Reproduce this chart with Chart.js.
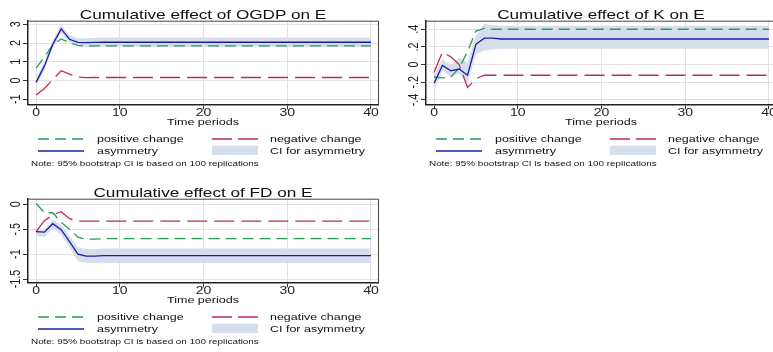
<!DOCTYPE html>
<html>
<head>
<meta charset="utf-8">
<script src="https://cdn.jsdelivr.net/npm/chart.js@4.4.0/dist/chart.umd.min.js"></script>
<style>
html, body { margin: 0; padding: 0; overflow: hidden; background: #fff; width: 773px; height: 352px; }
.panel { position: absolute; width: 400px; height: 178px; }
.panel canvas { position: absolute; left: 0; top: 0; }
.panel svg { position: absolute; left: 0; top: 130px; }
.t { position: absolute; white-space: nowrap; font-family: "Liberation Sans", Arial, sans-serif; color: #111; line-height: 1; }
.c { transform: translate(-50%, -50%) scaleX(1.32); }
.l { transform-origin: 0 50%; transform: translateY(-50%) scaleX(1.3); }
</style>
</head>
<body>
<script>
// periodi e valori
const periods = [0, 1, 2, 3, 4, 5, 6, 7, 8, 9,
  10, 11, 12, 13, 14, 15, 16, 17, 18, 19,
  20, 21, 22, 23, 24, 25, 26, 27, 28, 29,
  30, 31, 32, 33, 34, 35, 36, 37, 38, 39,
  40];
const xTicks = [0, 10, 20, 30, 40];

// OGDP
const ogdpPos = [0.66, 1.25, 1.90, 2.22, 2.02, 1.87, 1.85, 1.85, 1.85, 1.85,
  1.85, 1.85, 1.85, 1.85, 1.85, 1.85, 1.85, 1.85, 1.85, 1.85,
  1.85, 1.85, 1.85, 1.85, 1.85, 1.85, 1.85, 1.85, 1.85, 1.85,
  1.85, 1.85, 1.85, 1.85, 1.85, 1.85, 1.85, 1.85, 1.85, 1.85,
  1.85];
const ogdpNeg = [-0.77, -0.43, 0.05, 0.52, 0.34, 0.18, 0.15, 0.16, 0.16, 0.16,
  0.16, 0.16, 0.16, 0.16, 0.16, 0.16, 0.16, 0.16, 0.16, 0.16,
  0.16, 0.16, 0.16, 0.16, 0.16, 0.16, 0.16, 0.16, 0.16, 0.16,
  0.16, 0.16, 0.16, 0.16, 0.16, 0.16, 0.16, 0.16, 0.16, 0.16,
  0.16];
const ogdpAsym = [-0.10, 0.78, 1.93, 2.75, 2.20, 2.03, 2.02, 2.03, 2.04, 2.04,
  2.04, 2.04, 2.04, 2.04, 2.04, 2.04, 2.04, 2.04, 2.04, 2.04,
  2.04, 2.04, 2.04, 2.04, 2.04, 2.04, 2.04, 2.04, 2.04, 2.04,
  2.04, 2.04, 2.04, 2.04, 2.04, 2.04, 2.04, 2.04, 2.04, 2.04,
  2.04];
const ogdpLo = [-0.32, 0.55, 1.72, 2.53, 2.02, 1.82, 1.78, 1.78, 1.79, 1.79,
  1.79, 1.79, 1.79, 1.79, 1.79, 1.79, 1.79, 1.79, 1.79, 1.79,
  1.79, 1.79, 1.79, 1.79, 1.79, 1.79, 1.79, 1.79, 1.79, 1.79,
  1.79, 1.79, 1.79, 1.79, 1.79, 1.79, 1.79, 1.79, 1.79, 1.79,
  1.79];
const ogdpHi = [0.12, 0.98, 2.13, 2.96, 2.42, 2.25, 2.25, 2.27, 2.29, 2.29,
  2.29, 2.29, 2.29, 2.29, 2.29, 2.29, 2.29, 2.29, 2.29, 2.29,
  2.29, 2.29, 2.29, 2.29, 2.29, 2.29, 2.29, 2.29, 2.29, 2.29,
  2.29, 2.29, 2.29, 2.29, 2.29, 2.29, 2.29, 2.29, 2.29, 2.29,
  2.29];
const ogdpTicks = [-1, 0, 1, 2, 3];
const ogdpTickLabels = ['-1', '0', '1', '2', '3'];

// K
const kPos = [-0.14, -0.15, -0.14, -0.04, 0.15, 0.38, 0.41, 0.40, 0.40, 0.40,
  0.40, 0.40, 0.40, 0.40, 0.40, 0.40, 0.40, 0.40, 0.40, 0.40,
  0.40, 0.40, 0.40, 0.40, 0.40, 0.40, 0.40, 0.40, 0.40, 0.40,
  0.40, 0.40, 0.40, 0.40, 0.40, 0.40, 0.40, 0.40, 0.40, 0.40,
  0.40];
const kNeg = [-0.09, 0.14, 0.09, 0.00, -0.26, -0.16, -0.12, -0.12, -0.12, -0.12,
  -0.12, -0.12, -0.12, -0.12, -0.12, -0.12, -0.12, -0.12, -0.12, -0.12,
  -0.12, -0.12, -0.12, -0.12, -0.12, -0.12, -0.12, -0.12, -0.12, -0.12,
  -0.12, -0.12, -0.12, -0.12, -0.12, -0.12, -0.12, -0.12, -0.12, -0.12,
  -0.12];
const kAsym = [-0.21, -0.01, -0.07, -0.05, -0.12, 0.23, 0.30, 0.30, 0.29, 0.29,
  0.29, 0.29, 0.29, 0.29, 0.29, 0.29, 0.29, 0.29, 0.29, 0.29,
  0.29, 0.29, 0.29, 0.29, 0.29, 0.29, 0.29, 0.29, 0.29, 0.29,
  0.29, 0.29, 0.29, 0.29, 0.29, 0.29, 0.29, 0.29, 0.29, 0.29,
  0.29];
const kLo = [-0.29, -0.07, -0.14, -0.10, -0.21, 0.12, 0.16, 0.17, 0.18, 0.18,
  0.18, 0.18, 0.18, 0.18, 0.18, 0.18, 0.18, 0.18, 0.18, 0.18,
  0.18, 0.18, 0.18, 0.18, 0.18, 0.18, 0.18, 0.18, 0.18, 0.18,
  0.18, 0.18, 0.18, 0.18, 0.18, 0.18, 0.18, 0.18, 0.18, 0.18,
  0.18];
const kHi = [-0.12, 0.06, -0.01, 0.08, 0.02, 0.33, 0.46, 0.45, 0.44, 0.44,
  0.44, 0.44, 0.44, 0.44, 0.44, 0.44, 0.44, 0.44, 0.44, 0.44,
  0.44, 0.44, 0.44, 0.44, 0.44, 0.44, 0.44, 0.44, 0.44, 0.44,
  0.44, 0.44, 0.44, 0.44, 0.44, 0.44, 0.44, 0.44, 0.44, 0.44,
  0.44];
const kTicks = [-0.4, -0.2, 0, 0.2, 0.4];
const kTickLabels = ['-.4', '-.2', '0', '.2', '.4'];

// FD
const fdPos = [0.02, -0.17, -0.17, -0.36, -0.50, -0.66, -0.70, -0.70, -0.69, -0.69,
  -0.69, -0.69, -0.69, -0.69, -0.69, -0.69, -0.69, -0.69, -0.69, -0.69,
  -0.69, -0.69, -0.69, -0.69, -0.69, -0.69, -0.69, -0.69, -0.69, -0.69,
  -0.69, -0.69, -0.69, -0.69, -0.69, -0.69, -0.69, -0.69, -0.69, -0.69,
  -0.69];
const fdNeg = [-0.55, -0.33, -0.21, -0.15, -0.29, -0.34, -0.34, -0.34, -0.34, -0.34,
  -0.34, -0.34, -0.34, -0.34, -0.34, -0.34, -0.34, -0.34, -0.34, -0.34,
  -0.34, -0.34, -0.34, -0.34, -0.34, -0.34, -0.34, -0.34, -0.34, -0.34,
  -0.34, -0.34, -0.34, -0.34, -0.34, -0.34, -0.34, -0.34, -0.34, -0.34,
  -0.34];
const fdAsym = [-0.55, -0.56, -0.39, -0.51, -0.75, -1.00, -1.04, -1.04, -1.03, -1.03,
  -1.03, -1.03, -1.03, -1.03, -1.03, -1.03, -1.03, -1.03, -1.03, -1.03,
  -1.03, -1.03, -1.03, -1.03, -1.03, -1.03, -1.03, -1.03, -1.03, -1.03,
  -1.03, -1.03, -1.03, -1.03, -1.03, -1.03, -1.03, -1.03, -1.03, -1.03,
  -1.03];
const fdLo = [-0.62, -0.66, -0.48, -0.61, -0.87, -1.14, -1.18, -1.18, -1.18, -1.18,
  -1.18, -1.18, -1.18, -1.18, -1.18, -1.18, -1.18, -1.18, -1.18, -1.18,
  -1.18, -1.18, -1.18, -1.18, -1.18, -1.18, -1.18, -1.18, -1.18, -1.18,
  -1.18, -1.18, -1.18, -1.18, -1.18, -1.18, -1.18, -1.18, -1.18, -1.18,
  -1.18];
const fdHi = [-0.49, -0.50, -0.31, -0.41, -0.63, -0.87, -0.90, -0.90, -0.89, -0.89,
  -0.89, -0.89, -0.89, -0.89, -0.89, -0.89, -0.89, -0.89, -0.89, -0.89,
  -0.89, -0.89, -0.89, -0.89, -0.89, -0.89, -0.89, -0.89, -0.89, -0.89,
  -0.89, -0.89, -0.89, -0.89, -0.89, -0.89, -0.89, -0.89, -0.89, -0.89,
  -0.89];
const fdTicks = [-1.5, -1, -0.5, 0];
const fdTickLabels = ['-1.5', '-1', '-.5', '0'];

// colori
const GREEN = '#24a050';
const RED = '#bc2a60';
const BLUE = '#1c1ca8';
const BAND = '#d6deec';
const GRID = '#e2e2e2';
const FONT = '"Liberation Sans", Arial, sans-serif';

const panels = [
  { left: 0, top: 0, title: 'Cumulative effect of OGDP on E', pos: ogdpPos, neg: ogdpNeg, asym: ogdpAsym, lo: ogdpLo, hi: ogdpHi,
    yMin: -1.27, yMax: 3.19, ticks: ogdpTicks, labels: ogdpTickLabels },
  { left: 398, top: 0, title: 'Cumulative effect of K on E', pos: kPos, neg: kNeg, asym: kAsym, lo: kLo, hi: kHi,
    yMin: -0.449, yMax: 0.497, ticks: kTicks, labels: kTickLabels },
  { left: 0, top: 178, title: 'Cumulative effect of FD on E', pos: fdPos, neg: fdNeg, asym: fdAsym, lo: fdLo, hi: fdHi,
    yMin: -1.566, yMax: 0.112, ticks: fdTicks, labels: fdTickLabels }
];

// cornice e etichette in stile Stata
const stataFrame = {
  id: 'stataFrame',
  afterDraw(chart, args, opts) {
    const { ctx, chartArea: a, scales: { x, y } } = chart;
    ctx.save();
    ctx.strokeStyle = '#444';
    ctx.lineWidth = 1;
    ctx.beginPath();
    ctx.moveTo(a.left, a.top + 0.5);
    ctx.lineTo(a.right + 0.5, a.top + 0.5);
    ctx.lineTo(a.right + 0.5, a.bottom);
    ctx.stroke();
    ctx.fillStyle = '#222';
    ctx.font = '10.8px ' + FONT;
    ctx.textAlign = 'center';
    ctx.textBaseline = 'middle';
    xTicks.forEach(v => {
      ctx.save();
      ctx.translate(x.getPixelForValue(v), a.bottom + 9);
      ctx.scale(1.3, 1);
      ctx.fillText(String(v), 0, 0);
      ctx.restore();
    });
    opts.ticks.forEach((v, i) => {
      ctx.save();
      ctx.translate(a.left - 12, y.getPixelForValue(v));
      ctx.scale(1.3, 1);
      ctx.rotate(-Math.PI / 2);
      ctx.fillText(opts.labels[i], 0, 0);
      ctx.restore();
    });
    ctx.restore();
  }
};

function addText(box, txt, cls, left, top, size) {
  const d = document.createElement('div');
  d.className = 't ' + cls;
  d.style.left = left + 'px';
  d.style.top = top + 'px';
  d.style.fontSize = size + 'px';
  d.textContent = txt;
  box.appendChild(d);
}

panels.forEach(p => {
  const box = document.createElement('div');
  box.className = 'panel';
  box.style.left = p.left + 'px';
  box.style.top = p.top + 'px';
  document.body.appendChild(box);

  const cv = document.createElement('canvas');
  cv.width = 400;
  cv.height = 130;
  box.appendChild(cv);

  addText(box, p.title, 'c', 203, 13.8, 13);
  addText(box, 'Time periods', 'c', 203, 121.7, 9.5);

  // legenda
  box.insertAdjacentHTML('beforeend',
    '<svg width="400" height="48">' +
    '<line x1="38" y1="9" x2="84" y2="9" stroke="' + GREEN + '" stroke-width="1.3" stroke-dasharray="11 6"/>' +
    '<line x1="212" y1="9" x2="258" y2="9" stroke="' + RED + '" stroke-width="1.3" stroke-dasharray="20 6"/>' +
    '<line x1="38" y1="21" x2="84" y2="21" stroke="' + BLUE + '" stroke-width="1.3"/>' +
    '<rect x="212" y="15.7" width="46" height="9.3" fill="' + BAND + '"/>' +
    '</svg>');
  addText(box, 'positive change', 'l', 96.7, 139, 9.6);
  addText(box, 'negative change', 'l', 270, 139, 9.6);
  addText(box, 'asymmetry', 'l', 96.7, 151, 9.6);
  addText(box, 'CI for asymmetry', 'l', 270, 151, 9.6);
  addText(box, 'Note: 95% bootstrap CI is based on 100 replications', 'l', 30.7, 164.3, 7.6);

  new Chart(cv, {
    type: 'line',
    data: {
      labels: periods,
      datasets: [
        { label: 'positive change', data: p.pos, borderColor: GREEN, borderWidth: 1.3, borderDash: [11, 6], pointRadius: 0, fill: false, order: 1 },
        { label: 'negative change', data: p.neg, borderColor: RED, borderWidth: 1.3, borderDash: [20, 7], pointRadius: 0, fill: false, order: 1 },
        { label: 'asymmetry', data: p.asym, borderColor: BLUE, borderWidth: 1.3, pointRadius: 0, fill: false, order: 0 },
        { label: 'ci low', data: p.lo, borderWidth: 0, borderColor: 'rgba(0,0,0,0)', pointRadius: 0, fill: false, order: 5 },
        { label: 'CI for asymmetry', data: p.hi, borderWidth: 0, borderColor: 'rgba(0,0,0,0)', backgroundColor: BAND, pointRadius: 0, fill: '-1', order: 5 }
      ]
    },
    options: {
      responsive: false,
      animation: false,
      devicePixelRatio: 1,
      layout: { padding: { left: 28, top: 20.7, right: 22, bottom: 25.7 } },
      elements: { line: { tension: 0 } },
      plugins: {
        legend: { display: false },
        tooltip: { enabled: false },
        stataFrame: { ticks: p.ticks, labels: p.labels }
      },
      scales: {
        x: {
          type: 'linear', min: -0.96, max: 40.84,
          afterBuildTicks: s => { s.ticks = xTicks.map(v => ({ value: v })); },
          afterFit: s => { s.height = 0; },
          ticks: { display: false },
          grid: { color: GRID, tickColor: '#333', tickLength: 5 },
          border: { color: '#222', width: 1.5 }
        },
        y: {
          min: p.yMin, max: p.yMax,
          afterBuildTicks: s => { s.ticks = p.ticks.map(v => ({ value: v })); },
          afterFit: s => { s.width = 0; },
          ticks: { display: false },
          grid: { color: GRID, tickColor: '#333', tickLength: 5 },
          border: { color: '#222', width: 1.5 }
        }
      }
    },
    plugins: [stataFrame]
  });
});
</script>
</body>
</html>
